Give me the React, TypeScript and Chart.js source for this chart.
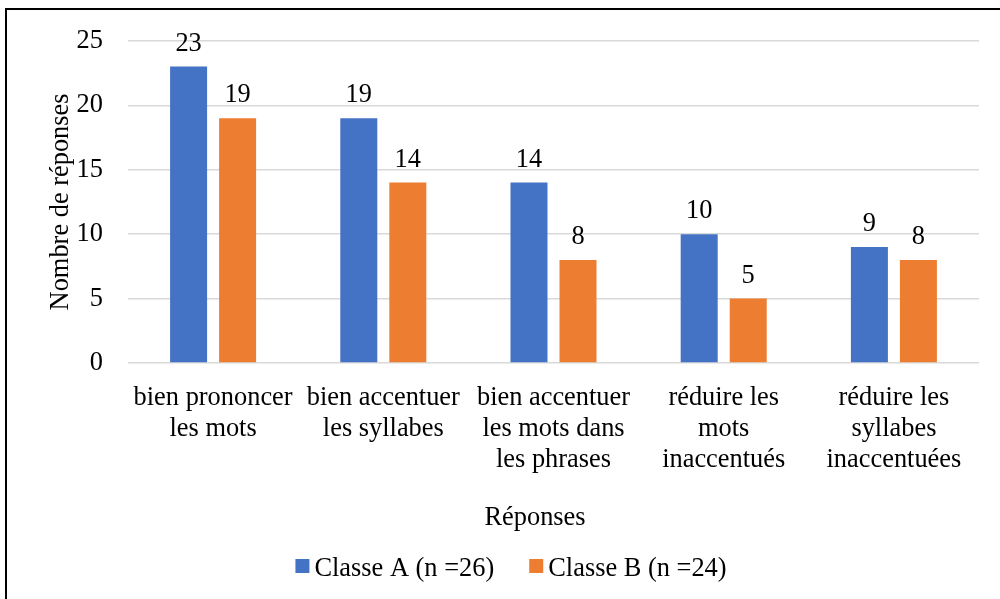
import React, { useEffect, useRef } from "react";
import { Chart, registerables } from "chart.js";

Chart.register(...registerables);

const categories: string[][] = [
  ["bien prononcer", "les mots"],
  ["bien accentuer", "les syllabes"],
  ["bien accentuer", "les mots dans", "les phrases"],
  ["réduire les", "mots", "inaccentués"],
  ["réduire les", "syllabes", "inaccentuées"],
];
const classeA = [23, 19, 14, 10, 9];
const classeB = [19, 14, 8, 5, 8];
const seriesLabels = ["Classe A (n =26)", "Classe B (n =24)"];
const seriesColors = ["#4472C4", "#ED7D31"];
const yMin = 0;
const yMax = 25;
const yStep = 5;
const yTitle = "Nombre de réponses";
const xTitle = "Réponses";

const FONT = '"Liberation Serif", "Times New Roman", serif';
const FS = 26.4;

const framePlugin = {
  id: "frame",
  beforeDraw(chart: any) {
    const ctx = chart.ctx;
    ctx.save();
    ctx.fillStyle = "#ffffff";
    ctx.fillRect(0, 0, chart.width, chart.height);
    ctx.strokeStyle = "#000000";
    ctx.lineWidth = 2;
    ctx.beginPath();
    ctx.moveTo(6, chart.height);
    ctx.lineTo(6, 9);
    ctx.lineTo(chart.width, 9);
    ctx.stroke();
    ctx.restore();
  },
};

const labelsPlugin = {
  id: "barLabels",
  afterDatasetsDraw(chart: any) {
    const ctx = chart.ctx;
    ctx.save();
    ctx.font = `${FS}px ${FONT}`;
    ctx.fillStyle = "#000000";
    ctx.textAlign = "center";
    ctx.textBaseline = "alphabetic";
    chart.data.datasets.forEach((ds: any, i: number) => {
      const meta = chart.getDatasetMeta(i);
      meta.data.forEach((el: any, j: number) => {
        ctx.fillText(String(ds.data[j]), el.x, el.y - 16);
      });
    });
    ctx.restore();
  },
};

const legendTitlePlugin = {
  id: "legendTitle",
  afterDraw(chart: any) {
    const ctx = chart.ctx;
    ctx.save();
    ctx.font = `${FS}px ${FONT}`;
    ctx.fillStyle = "#000000";
    // x axis title
    ctx.textAlign = "center";
    ctx.textBaseline = "middle";
    ctx.fillText(xTitle, 535, 518);
    // legend
    const box = 14;
    const gapText = 5;
    const gapItems = 35;
    const items = chart.data.datasets.map((ds: any) => ({
      label: ds.label,
      color: ds.backgroundColor,
      w: ctx.measureText(ds.label).width,
    }));
    let total = 0;
    items.forEach((it: any, i: number) => {
      total += box + gapText + it.w + (i > 0 ? gapItems : 0);
    });
    let x = 511 - total / 2;
    ctx.textAlign = "left";
    ctx.textBaseline = "alphabetic";
    items.forEach((it: any) => {
      ctx.fillStyle = it.color;
      ctx.fillRect(x, 559, box, box);
      ctx.fillStyle = "#000000";
      ctx.fillText(it.label, x + box + gapText, 576);
      x += box + gapText + it.w + gapItems;
    });
    ctx.restore();
  },
};

export default function App() {
  const ref = useRef<HTMLCanvasElement | null>(null);
  useEffect(() => {
    if (!ref.current) return;
    const chart = new Chart(ref.current, {
      type: "bar",
      data: {
        labels: categories as any,
        datasets: [
          {
            label: seriesLabels[0],
            data: classeA,
            backgroundColor: seriesColors[0],
            categoryPercentage: 0.576,
            barPercentage: 0.755,
          },
          {
            label: seriesLabels[1],
            data: classeB,
            backgroundColor: seriesColors[1],
            categoryPercentage: 0.576,
            barPercentage: 0.755,
          },
        ],
      },
      options: {
        responsive: false,
        animation: false,
        maintainAspectRatio: false,
        layout: { padding: { top: 38, right: 21, bottom: 60, left: 20 } },
        plugins: {
          legend: { display: false },
          tooltip: { enabled: false },
        },
        scales: {
          x: {
            grid: { display: false, drawTicks: false },
            border: { display: false },
            ticks: {
              color: "#000000",
              padding: 20,
              maxRotation: 0,
              autoSkip: false,
              font: { family: FONT, size: FS, lineHeight: 31 / FS },
            },
            afterFit: (scale: any) => {
              scale.height = 176;
            },
          },
          y: {
            min: yMin,
            max: yMax,
            ticks: {
              stepSize: yStep,
              color: "#000000",
              padding: 25,
              font: { family: FONT, size: FS },
            },
            grid: { color: "#D9D9D9", lineWidth: 1.5, drawTicks: false },
            border: { display: false },
            title: {
              display: true,
              text: yTitle,
              color: "#000000",
              padding: { top: 25, bottom: 0 },
              font: { family: FONT, size: FS, lineHeight: 1.2 },
            },
            afterFit: (scale: any) => {
              scale.width = 108;
            },
          },
        },
      },
      plugins: [framePlugin, labelsPlugin, legendTitlePlugin],
    });
    return () => chart.destroy();
  }, []);
  return (
    <div style={{ position: "absolute", left: 0, top: 0, width: 1000, height: 599 }}>
      <canvas ref={ref} width={1000} height={599} style={{ display: "block" }} />
    </div>
  );
}
